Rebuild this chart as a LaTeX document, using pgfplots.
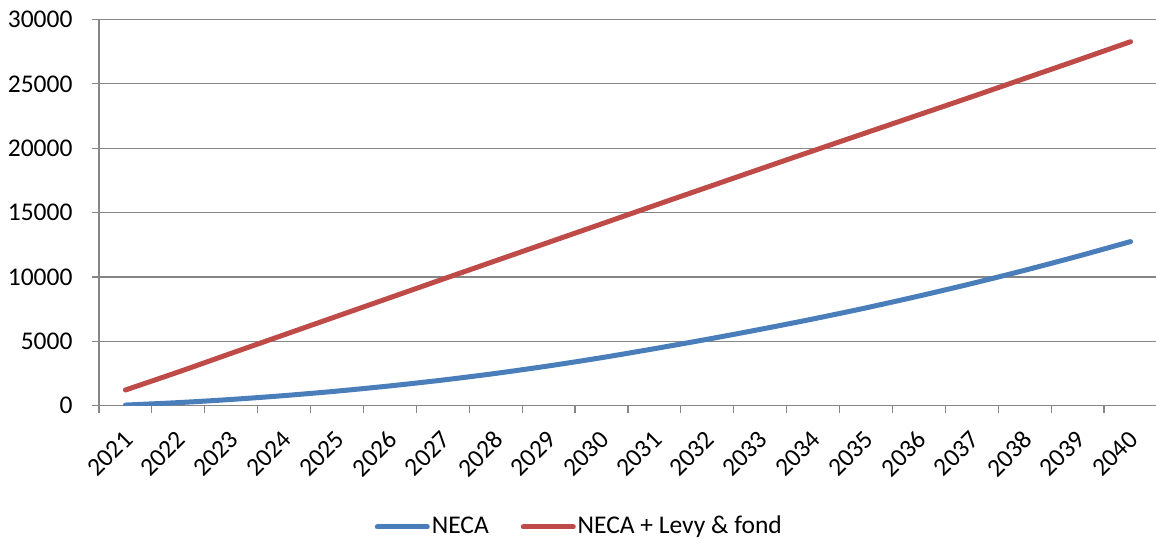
\documentclass[border=0pt]{standalone}
\usepackage{fontspec}
\setmainfont{Carlito}
\usepackage{pgfplots}
\pgfplotsset{compat=1.18}
\definecolor{neca}{HTML}{4A7EBB}
\definecolor{levy}{HTML}{BE4B48}
\definecolor{gridc}{HTML}{868686}
\begin{document}
\fontsize{25bp}{30bp}\selectfont
\begin{tikzpicture}
\begin{axis}[
  name=ax,
  scale only axis,
  width=1058bp, height=386.2bp,
  xmin=-0.5, xmax=19.5, ymin=0, ymax=30000,
  axis lines*=left,
  axis line style={gridc, line width=1.2bp, -},
  xtick={-0.5,0.5,...,19.5},
  xticklabels={},
  extra x ticks={0,1,...,19},
  extra x tick labels={2021,2022,2023,2024,2025,2026,2027,2028,2029,2030,2031,2032,2033,2034,2035,2036,2037,2038,2039,2040},
  extra x tick style={major tick length=0pt, tick style={draw=none}},
  ytick={0,5000,...,30000},
  ymajorgrids,
  grid style={gridc, line width=1.2bp},
  tick align=outside,
  major tick length=7bp,
  tick style={gridc, line width=1.2bp},
  scaled y ticks=false,
  /pgf/number format/assume math mode=true,
  /pgf/number format/set thousands separator={},
  yticklabel style={font=\fontsize{25.5bp}{30bp}\selectfont, xshift=-11bp},
  xticklabel style={font=\fontsize{25.5bp}{30bp}\selectfont, xshift=-3bp, yshift=-22bp, rotate=45, anchor=north east, inner sep=1bp},
  legend columns=2,
  legend style={draw=none, at={(0.454,-0.314)}, anchor=center, font=\fontsize{25.5bp}{30bp}\selectfont,
    /tikz/every even column/.append style={column sep=30bp}},
  legend image code/.code={\draw[#1, line width=5bp, line cap=round] (0bp,0bp) -- (50bp,0bp);},
]
\addplot[neca, line width=5bp, line cap=round, smooth] table {
x y
0 50
1 240
2 486
3 784
4 1134
5 1538
6 1994
7 2510
8 3090
9 3730
10 4430
11 5160
12 5930
13 6740
14 7600
15 8520
16 9490
17 10520
18 11606
19 12750
};
\addlegendentry{NECA}
\addplot[levy, line width=5bp, line cap=round, smooth] table {
x y
0 1220
1 2620
2 4070
3 5510
4 6950
5 8390
6 9830
7 11260
8 12690
9 14120
10 15550
11 16970
12 18390
13 19800
14 21200
15 22600
16 24000
17 25420
18 26840
19 28275
};
\addlegendentry{NECA + Levy \& fond}
\end{axis}
\pgfresetboundingbox
\path (ax.south west) ++(-99bp,-134.3bp) rectangle ++(1156bp,540bp);
\end{tikzpicture}
\end{document}
